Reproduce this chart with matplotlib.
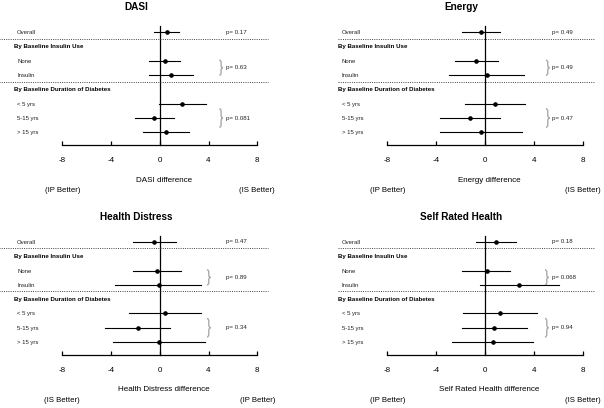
import numpy as np
import matplotlib
matplotlib.use("Agg")
import matplotlib.pyplot as plt
from matplotlib.path import Path
from matplotlib.patches import PathPatch

plt.rcParams['font.family'] = ['Liberation Sans', 'DejaVu Sans']

# rows of each forest plot
row_labels = ["Overall", "None", "Insulin", "< 5 yrs", "5-15 yrs", "> 15 yrs"]
row_pos = [0, 2, 3, 5, 6, 7]
headers = ["By Baseline Insulin Use", "By Baseline Duration of Diabetes"]
header_pos = [1, 4]

titles = ["DASI", "Energy", "Health Distress", "Self Rated Health"]
xlabels = ["DASI difference", "Energy difference",
           "Health Distress difference", "Self Rated Health difference"]
left_better = ["(IP Better)", "(IP Better)", "(IS Better)", "(IP Better)"]
right_better = ["(IS Better)", "(IS Better)", "(IP Better)", "(IS Better)"]

# estimates and confidence limits
dasi_est = [0.59, 0.40, 0.89, 1.82, -0.45, 0.48]
dasi_lo = [-0.45, -0.86, -0.92, -0.10, -2.07, -1.38]
dasi_hi = [1.57, 1.68, 2.72, 3.79, 1.19, 2.40]
dasi_p = ["p= 0.17", "p= 0.63", "p= 0.081"]

energy_est = [-0.38, -0.73, 0.11, 0.82, -1.25, -0.38]
energy_lo = [-1.88, -2.45, -2.96, -1.63, -3.70, -3.70]
energy_hi = [1.20, 1.01, 3.18, 3.27, 1.18, 2.97]
energy_p = ["p= 0.49", "p= 0.49", "p= 0.47"]

hd_est = [-0.47, -0.20, -0.10, 0.43, -1.82, -0.04]
hd_lo = [-2.20, -2.23, -3.68, -2.56, -4.47, -3.84]
hd_hi = [1.30, 1.76, 3.40, 3.38, 0.86, 3.71]
hd_p = ["p= 0.47", "p= 0.89", "p= 0.34"]

srh_est = [0.87, 0.11, 2.75, 1.24, 0.67, 0.62]
srh_lo = [-0.80, -1.90, -0.46, -1.79, -1.93, -2.71]
srh_hi = [2.53, 2.00, 6.00, 4.22, 3.38, 3.90]
srh_p = ["p= 0.18", "p= 0.068", "p= 0.94"]

ticks = [-8, -4, 0, 4, 8]

W, H = 604, 408
fig = plt.figure(figsize=(W / 100, H / 100), dpi=100)

ROW_PX = 14.29
TOP_ROW = -0.42
AXIS_ROW = 7.875


def brace(ax, x0, yt, yb, w=0.3):
    ym = (yt + yb) / 2
    q = (yb - yt) * 0.15
    xm = x0 + w / 2
    verts = [(x0, yt), (xm, yt), (xm, yt + q), (xm, ym - q), (xm, ym), (x0 + w, ym),
             (xm, ym), (xm, ym + q), (xm, yb - q), (xm, yb), (x0, yb)]
    codes = [Path.MOVETO, Path.CURVE3, Path.CURVE3, Path.LINETO, Path.CURVE3, Path.CURVE3,
             Path.CURVE3, Path.CURVE3, Path.LINETO, Path.CURVE3, Path.CURVE3]
    ax.add_patch(PathPatch(Path(verts, codes), fill=False, ec='#aaaaaa', lw=1.0, clip_on=False))


def panel(i, xm8, x8, row0_px, est, lo, hi, pvals, dot_start, brace_x):
    top = row0_px + TOP_ROW * ROW_PX
    bot = row0_px + AXIS_ROW * ROW_PX
    ax = fig.add_axes([xm8 / W, 1 - bot / H, (x8 - xm8) / W, (bot - top) / H])
    ax.set_xlim(-8, 8)
    ax.set_ylim(AXIS_ROW, TOP_ROW)
    for s in ['top', 'right', 'left']:
        ax.spines[s].set_visible(False)
    ax.spines['bottom'].set_bounds(-8, 8)
    ax.spines['bottom'].set_linewidth(0.9)
    ax.set_yticks([])
    ax.set_xticks(ticks)
    ax.set_xticklabels([str(t) for t in ticks])
    ax.tick_params(axis='x', direction='in', length=3, width=0.9, pad=9, labelsize=5.8)
    ax.patch.set_visible(False)

    ax.plot([0, 0], [TOP_ROW, AXIS_ROW], color='black', lw=0.9, clip_on=False)
    for y in [0.45, 3.45]:
        ax.plot([dot_start, 8.85], [y, y], color='#444444', lw=0.7, ls=(0, (1, 1.3)), clip_on=False)

    for k, y in enumerate(row_pos):
        ax.plot([lo[k], hi[k]], [y, y], color='black', lw=0.8, clip_on=False)
        ax.plot(est[k], y, 'o', color='black', ms=2.3, clip_on=False)
        ax.text(-11.7, y + 0.03, row_labels[k], fontsize=4.3, va='center', ha='left', color='#222222')
    for h, y in zip(headers, header_pos):
        ax.text(-12.0, y, h, fontsize=4.4, fontweight='bold', va='center', ha='left')

    ax.text(5.45, 0, pvals[0], fontsize=4.4, va='center', ha='left', color='#222222')
    brace(ax, brace_x, 1.95, 3.0)
    ax.text(5.45, 2.48, pvals[1], fontsize=4.4, va='center', ha='left', color='#222222')
    brace(ax, brace_x, 5.35, 6.65)
    ax.text(5.45, 6.0, pvals[2], fontsize=4.4, va='center', ha='left', color='#222222')

    ax.text(-1.95, -1.75, titles[i], fontsize=7.2, fontweight='bold', ha='center', va='center')
    ax.text(0.33, 10.34, xlabels[i], fontsize=5.8, ha='center', va='center')
    ax.text(-8, 11.1, left_better[i], fontsize=5.6, ha='center', va='center')
    ax.text(8, 11.1, right_better[i], fontsize=5.6, ha='center', va='center')
    return ax


panel(0, 62.3, 257.3, 32.3, dasi_est, dasi_lo, dasi_hi, dasi_p, -13.2, 4.88)
panel(1, 387.3, 583.3, 32.3, energy_est, energy_lo, energy_hi, energy_p, -12.05, 4.95)
panel(2, 62.3, 257.3, 242.0, hd_est, hd_lo, hd_hi, hd_p, -13.2, 3.87)
panel(3, 387.3, 583.3, 242.0, srh_est, srh_lo, srh_hi, srh_p, -12.05, 4.87)

fig.savefig("out.png", dpi=100)
